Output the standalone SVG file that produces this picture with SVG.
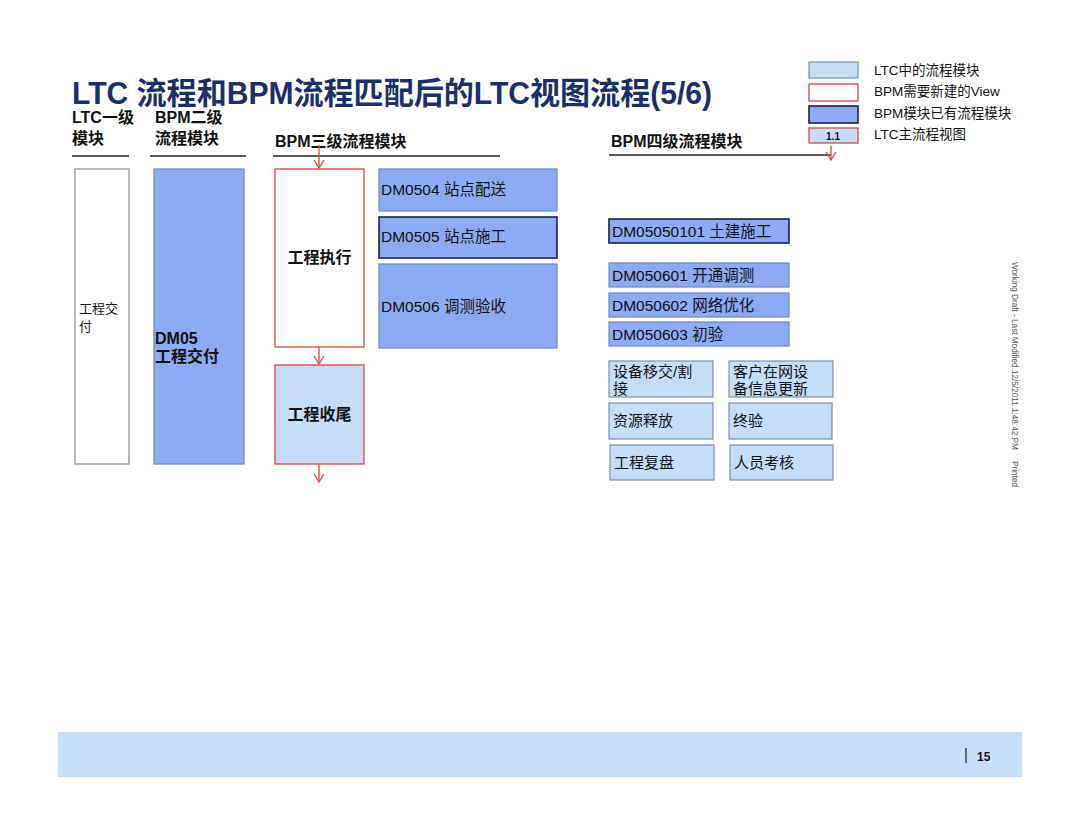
<svg xmlns="http://www.w3.org/2000/svg" width="1080" height="832" viewBox="0 0 1080 832">
<style>
text{font-family:"Liberation Sans","Noto Sans CJK SC",sans-serif;fill:#111}
.hdr{font-size:16px;font-weight:bold}
.rule{stroke:#222;stroke-width:1.3}
.mid{fill:#8faaf4;stroke:#6b86c4;stroke-width:1.2}
.midd{fill:#8faaf4;stroke:#1c2440;stroke-width:1.6}
.lite{fill:#c7ddf6;stroke:#7e8fa8;stroke-width:1.2}
.new{fill:#fff;stroke:#d9534f;stroke-width:1.4}
.newl{fill:#c7ddf6;stroke:#d9534f;stroke-width:1.4}
.t{font-size:15.5px}
.s{font-size:15px}
.b{font-size:16px;font-weight:bold}
.lg{font-size:13.5px}
.arr{stroke:#d9534f;stroke-width:1.4;fill:none}
</style>
<defs>
<marker id="ah" markerWidth="10" markerHeight="12" refX="9" refY="6" orient="auto" markerUnits="userSpaceOnUse" viewBox="0 0 10 12">
<path d="M1,1 L9,6 L1,11" fill="none" stroke="#d9534f" stroke-width="1.4"/>
</marker>
</defs>
<rect width="1080" height="832" fill="#fff"/>

<text x="72" y="104" font-size="31" font-weight="bold" style="fill:#1b2f6b" textLength="640" lengthAdjust="spacingAndGlyphs">LTC 流程和BPM流程匹配后的LTC视图流程(5/6)</text>

<g id="headers">
<text class="hdr" x="72" y="123">LTC一级</text>
<text class="hdr" x="72" y="144">模块</text>
<text class="hdr" x="155" y="123">BPM二级</text>
<text class="hdr" x="155" y="144">流程模块</text>
<text class="hdr" x="275" y="147">BPM三级流程模块</text>
<text class="hdr" x="611" y="147">BPM四级流程模块</text>
<line class="rule" x1="72" y1="156" x2="129" y2="156"/>
<line class="rule" x1="150" y1="156" x2="246" y2="156"/>
<line class="rule" x1="273" y1="156" x2="500" y2="156"/>
<line class="rule" x1="609" y1="155" x2="831" y2="155"/>
</g>

<g id="legend">
<rect class="lite" x="809" y="62" width="49" height="16"/>
<rect class="new" x="809" y="84" width="49" height="17"/>
<rect class="midd" x="809" y="106" width="49" height="17"/>
<rect class="newl" x="809" y="128" width="49" height="15"/>
<text x="833" y="140" font-size="10" font-weight="bold" text-anchor="middle">1.1</text>
<text class="lg" x="874" y="75">LTC中的流程模块</text>
<text class="lg" x="874" y="96">BPM需要新建的View</text>
<text class="lg" x="874" y="118">BPM模块已有流程模块</text>
<text class="lg" x="874" y="139">LTC主流程视图</text>
</g>

<g id="connectors">
<line class="arr" x1="319" y1="145" x2="319" y2="168" marker-end="url(#ah)"/>
<line class="arr" x1="319" y1="347" x2="319" y2="364" marker-end="url(#ah)"/>
<line class="arr" x1="319" y1="464" x2="319" y2="482" marker-end="url(#ah)"/>
<line class="arr" x1="831" y1="146" x2="831" y2="160" marker-end="url(#ah)"/>
</g>

<g id="n-ltc">
<rect x="75" y="169" width="54" height="295" fill="#fff" stroke="#888" stroke-width="1.2"/>
<text x="79" y="313" font-size="13">工程交</text>
<text x="79" y="331" font-size="13">付</text>
</g>
<g id="n-dm05">
<rect class="mid" x="154" y="169" width="90" height="295"/>
<text class="b" x="155" y="344">DM05</text>
<text class="b" x="155" y="362">工程交付</text>
</g>
<g id="n-exec">
<rect class="new" x="275" y="169" width="89" height="178"/>
<text class="b" x="319.5" y="263" text-anchor="middle">工程执行</text>
</g>
<g id="n-close">
<rect class="newl" x="275" y="365" width="89" height="99"/>
<text class="b" x="319.5" y="420" text-anchor="middle">工程收尾</text>
</g>

<g id="n-dm0504">
<rect class="mid" x="379" y="169" width="178" height="42"/>
<text class="t" x="381" y="195">DM0504 站点配送</text>
</g>
<g id="n-dm0505">
<rect class="midd" x="379" y="217" width="178" height="41"/>
<text class="t" x="381" y="242">DM0505 站点施工</text>
</g>
<g id="n-dm0506">
<rect class="mid" x="379" y="264" width="178" height="84"/>
<text class="t" x="381" y="312">DM0506 调测验收</text>
</g>

<g id="n-dm05050101">
<rect class="midd" x="609" y="219" width="180" height="24"/>
<text class="t" x="612" y="237">DM05050101 土建施工</text>
</g>
<g id="n-dm050601">
<rect class="mid" x="609" y="263" width="180" height="24"/>
<text class="t" x="612" y="281">DM050601 开通调测</text>
</g>
<g id="n-dm050602">
<rect class="mid" x="609" y="293" width="180" height="24"/>
<text class="t" x="612" y="311">DM050602 网络优化</text>
</g>
<g id="n-dm050603">
<rect class="mid" x="609" y="322" width="180" height="24"/>
<text class="t" x="612" y="340">DM050603 初验</text>
</g>

<g id="n-handover">
<rect class="lite" x="609" y="361" width="104" height="36"/>
<text class="s" x="613" y="377">设备移交/割</text>
<text class="s" x="613" y="394">接</text>
</g>
<g id="n-custinfo">
<rect class="lite" x="729" y="361" width="104" height="36"/>
<text class="s" x="733" y="377">客户在网设</text>
<text class="s" x="733" y="394">备信息更新</text>
</g>
<g id="n-release">
<rect class="lite" x="609" y="403" width="104" height="36"/>
<text class="s" x="613" y="426">资源释放</text>
</g>
<g id="n-final">
<rect class="lite" x="729" y="403" width="103" height="36"/>
<text class="s" x="733" y="426">终验</text>
</g>
<g id="n-review">
<rect class="lite" x="610" y="445" width="104" height="35"/>
<text class="s" x="614" y="468">工程复盘</text>
</g>
<g id="n-assess">
<rect class="lite" x="730" y="445" width="103" height="35"/>
<text class="s" x="734" y="468">人员考核</text>
</g>

<text transform="translate(1012,262) rotate(90)" font-size="8.5" style="fill:#555" textLength="225" lengthAdjust="spacingAndGlyphs" xml:space="preserve">Working Draft - Last Modified 12/5/2011 1:48:42 PM     Printed</text>

<g id="footer">
<rect x="58" y="732" width="964" height="45" fill="#c8dff6"/>
<line x1="966" y1="748" x2="966" y2="763" stroke="#222" stroke-width="1.2"/>
<text x="977" y="761" font-size="12" font-weight="bold">15</text>
</g>
</svg>
